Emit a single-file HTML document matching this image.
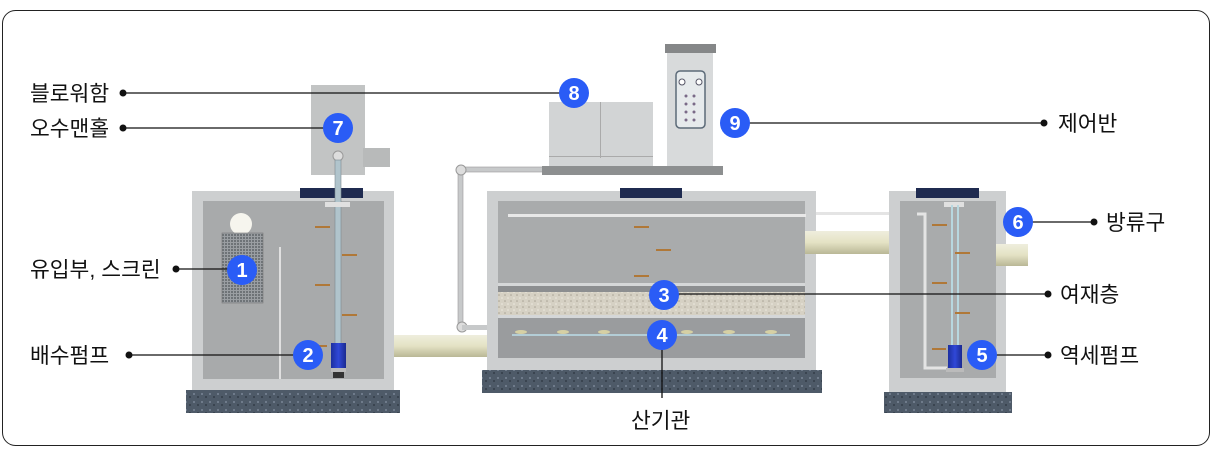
<!DOCTYPE html>
<html><head><meta charset="utf-8"><style>
html,body{margin:0;padding:0;background:#fff;width:1212px;height:460px;overflow:hidden}
svg{display:block}
text{font-family:"Liberation Sans","Noto Sans CJK KR",sans-serif;font-size:21.5px;fill:#111}
.n{font-family:"Liberation Sans",sans-serif;font-size:20px;font-weight:bold;fill:#fff;text-anchor:middle}
</style></head><body>
<svg width="1212" height="460" viewBox="0 0 1212 460" xmlns="http://www.w3.org/2000/svg">
<defs>
<pattern id="grav" width="8" height="8" patternUnits="userSpaceOnUse"><rect width="8" height="8" fill="#4e5a68"/><circle cx="2" cy="2" r="1" fill="#7a8696"/><circle cx="6" cy="5" r="1" fill="#333c48"/></pattern>
<pattern id="fil" width="6" height="6" patternUnits="userSpaceOnUse"><rect width="6" height="6" fill="#d6d1c4"/><circle cx="1" cy="1" r="0.8" fill="#a8a294"/><circle cx="4" cy="4" r="0.8" fill="#eeeae0"/></pattern>
<pattern id="grid" width="3" height="3" patternUnits="userSpaceOnUse"><rect width="3" height="3" fill="#9a9ea2"/><rect width="2" height="2" fill="#6e7377"/></pattern>
<linearGradient id="pipe" x1="0" y1="0" x2="0" y2="1"><stop offset="0" stop-color="#efeedd"/><stop offset="0.5" stop-color="#e4e2c4"/><stop offset="1" stop-color="#b9b796"/></linearGradient>
<linearGradient id="blue" x1="0" y1="0" x2="1" y2="0"><stop offset="0" stop-color="#1c2fa0"/><stop offset="0.5" stop-color="#3048d8"/><stop offset="1" stop-color="#1a2a90"/></linearGradient>
</defs>
<rect x="2.5" y="10.5" width="1207" height="435" rx="13" fill="#fff" stroke="#222" stroke-width="1"/>

<!-- left tank -->
<rect x="186" y="390" width="214" height="23" fill="url(#grav)"/>
<rect x="192" y="191" width="202" height="199" fill="#cdcfd0"/>
<rect x="203" y="201" width="181" height="178" fill="#a8aaab"/>
<rect x="300" y="188" width="63" height="10" fill="#1f2b50"/>
<rect x="311" y="85" width="54" height="90" fill="#c2c4c4"/>
<rect x="363" y="148" width="27" height="19" fill="#b8baba"/>
<circle cx="338" cy="156" r="5" fill="#ddd" stroke="#999"/>
<rect x="335" y="160" width="6" height="185" fill="#b0c4cc" stroke="#7d8a90" stroke-width="0.6"/>
<rect x="325" y="202" width="25" height="5" fill="#e0e0e0"/>
<rect x="331" y="343" width="15" height="25" fill="url(#blue)"/>
<rect x="331" y="368" width="15" height="4" fill="#bbb"/>
<rect x="333" y="372" width="11" height="6" fill="#333"/>
<circle cx="241" cy="224" r="11" fill="#f6f5ee"/>
<rect x="222" y="233" width="41" height="70" fill="url(#grid)" stroke="#777" stroke-width="0.6"/>
<rect x="279" y="247" width="2" height="132" fill="#e0e0e0"/>
<g fill="#b07838"><rect x="315" y="226" width="15" height="2"/><rect x="342" y="254" width="15" height="2"/><rect x="315" y="284" width="15" height="2"/><rect x="342" y="314" width="15" height="2"/><rect x="315" y="345" width="12" height="2"/></g>

<!-- connecting pipe -->
<rect x="394" y="335" width="94" height="22" fill="url(#pipe)"/>
<rect x="458" y="169" width="5" height="160" fill="#c7c9ca" stroke="#999" stroke-width="0.6"/>
<rect x="460" y="167" width="84" height="5" fill="#c7c9ca" stroke="#999" stroke-width="0.6"/>
<circle cx="461" cy="170" r="5" fill="#ddd" stroke="#999"/>
<circle cx="462" cy="327" r="5" fill="#ddd" stroke="#999"/>
<rect x="462" y="325" width="36" height="5" fill="#c7c9ca"/>

<!-- middle tank -->
<rect x="482" y="370" width="340" height="23" fill="url(#grav)"/>
<rect x="487" y="191" width="329" height="179" fill="#cdcfd0"/>
<rect x="498" y="201" width="307" height="157" fill="#a9abac"/>
<rect x="620" y="188" width="62" height="10" fill="#1f2b50"/>
<rect x="508" y="214" width="298" height="3" fill="#e8e8e8"/>
<g fill="#b07838"><rect x="634" y="226" width="15" height="2"/><rect x="656" y="249" width="15" height="2"/><rect x="634" y="275" width="15" height="2"/></g>
<rect x="498" y="283" width="307" height="3" fill="#d5d7d8"/>
<rect x="498" y="286" width="307" height="6" fill="#8c8e90"/>
<rect x="498" y="292" width="307" height="23" fill="url(#fil)"/>
<rect x="498" y="315" width="307" height="3" fill="#d5d7d8"/>
<rect x="498" y="318" width="307" height="40" fill="#9a9c9e"/>
<rect x="512" y="334" width="278" height="2" fill="#b3cdd6"/>
<g fill="#d6d0a4"><ellipse cx="521" cy="332" rx="6" ry="2"/><ellipse cx="563" cy="332" rx="6" ry="2"/><ellipse cx="604" cy="332" rx="6" ry="2"/><ellipse cx="687" cy="332" rx="6" ry="2"/><ellipse cx="729" cy="332" rx="6" ry="2"/><ellipse cx="771" cy="332" rx="6" ry="2"/></g>

<!-- blower & panel -->
<rect x="542" y="166" width="181" height="9" fill="#8d8f90"/>
<rect x="549" y="102" width="104" height="64" fill="#d2d4d5"/>
<rect x="600" y="102" width="1" height="56" fill="#aaa"/>
<rect x="549" y="156" width="104" height="1" fill="#aaa"/>
<rect x="667" y="48" width="46" height="118" fill="#d8dadb"/>
<rect x="665" y="44" width="51" height="9" fill="#858788"/>
<rect x="676" y="71" width="29" height="57" rx="4" fill="#e6eaec" stroke="#5c6a78" stroke-width="1.5"/>
<circle cx="682" cy="82" r="3" fill="#fff" stroke="#556"/><circle cx="699" cy="82" r="3" fill="#fff" stroke="#556"/>
<g fill="#7a6a88"><circle cx="686" cy="96" r="1.5"/><circle cx="694" cy="96" r="1.5"/><circle cx="686" cy="104" r="1.5"/><circle cx="694" cy="104" r="1.5"/><circle cx="686" cy="112" r="1.5"/><circle cx="694" cy="112" r="1.5"/><circle cx="686" cy="120" r="1.5"/><circle cx="694" cy="120" r="1.5"/></g>

<!-- right side -->
<rect x="805" y="231" width="90" height="23" fill="url(#pipe)"/>
<rect x="816" y="212" width="109" height="3" fill="#e4e4e4"/>
<rect x="884" y="392" width="128" height="21" fill="url(#grav)"/>
<rect x="889" y="191" width="117" height="201" fill="#cdcfd0"/>
<rect x="900" y="201" width="96" height="177" fill="#a9abac"/>
<rect x="916" y="188" width="63" height="10" fill="#1f2b50"/>
<rect x="996" y="244" width="32" height="22" fill="url(#pipe)"/>
<path d="M917 214 H925 V368 H947" fill="none" stroke="#e4e4e4" stroke-width="3"/>
<rect x="944" y="202" width="20" height="5" fill="#e0e0e0"/>
<rect x="951" y="205" width="2" height="142" fill="#b8d8e0"/><rect x="957" y="205" width="2" height="142" fill="#b8d8e0"/>
<rect x="948" y="345" width="14" height="23" fill="url(#blue)"/>
<rect x="946" y="368" width="18" height="4" fill="#bbb"/>
<g fill="#b07838"><rect x="932" y="224" width="15" height="2"/><rect x="955" y="252" width="15" height="2"/><rect x="932" y="282" width="15" height="2"/><rect x="955" y="312" width="15" height="2"/><rect x="932" y="348" width="14" height="2"/></g>

<!-- leader lines -->
<g stroke="#111" stroke-width="1.3" fill="none">
<line x1="123" y1="93" x2="574" y2="93"/>
<line x1="123" y1="128" x2="338" y2="128"/>
<line x1="176" y1="269" x2="242" y2="269"/>
<line x1="129" y1="355" x2="308" y2="355"/>
<line x1="735" y1="123" x2="1044" y2="123"/>
<line x1="1018" y1="222" x2="1094" y2="222"/>
<line x1="664" y1="294" x2="1048" y2="294"/>
<line x1="982" y1="355" x2="1048" y2="355"/>
<line x1="662" y1="335" x2="662" y2="398"/>
</g>
<g fill="#111">
<circle cx="123" cy="93" r="3.5"/><circle cx="123" cy="128" r="3.5"/><circle cx="176" cy="269" r="3.5"/><circle cx="129" cy="355" r="3.5"/>
<circle cx="1044" cy="123" r="3.5"/><circle cx="1094" cy="222" r="3.5"/><circle cx="1048" cy="294" r="3.5"/><circle cx="1048" cy="355" r="3.5"/>
</g>
<g fill="#2a5cf6">
<circle cx="338" cy="128" r="15"/><circle cx="242" cy="270" r="15"/><circle cx="308" cy="355" r="15"/><circle cx="574" cy="93" r="15"/><circle cx="735" cy="123" r="15"/><circle cx="664" cy="295" r="15"/><circle cx="662" cy="335" r="15"/><circle cx="1018" cy="222" r="15"/><circle cx="982" cy="355" r="15"/>
</g>
<text class="n" x="338" y="135">7</text><text class="n" x="242" y="277">1</text><text class="n" x="308" y="362">2</text><text class="n" x="574" y="100">8</text><text class="n" x="735" y="130">9</text><text class="n" x="664" y="302">3</text><text class="n" x="662" y="342">4</text><text class="n" x="1018" y="229">6</text><text class="n" x="982" y="362">5</text>
<text x="30" y="101">블로워함</text>
<text x="30" y="136">오수맨홀</text>
<text x="30" y="277">유입부, 스크린</text>
<text x="30" y="363">배수펌프</text>
<text x="1058" y="131">제어반</text>
<text x="1106" y="230">방류구</text>
<text x="1060" y="302">여재층</text>
<text x="1060" y="363">역세펌프</text>
<text x="631" y="428">산기관</text>
</svg>
</body></html>
